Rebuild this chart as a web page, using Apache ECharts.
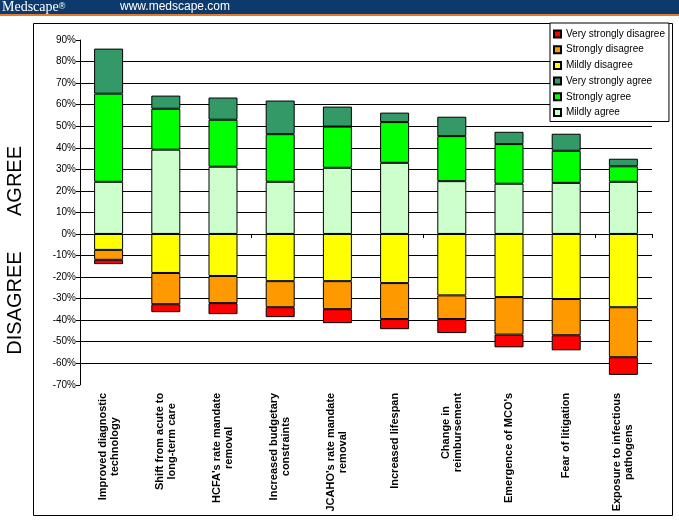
<!DOCTYPE html>
<html><head><meta charset="utf-8">
<script src="https://cdn.jsdelivr.net/npm/echarts@6/dist/echarts.min.js"></script>
<style>html,body{margin:0;padding:0;background:#fff}#c{width:679px;height:522px}</style>
</head><body><div id="c"></div>
<script>
const categories = [
  "Improved diagnostic\ntechnology",
  "Shift from acute to\nlong-term care",
  "HCFA's rate mandate\nremoval",
  "Increased budgetary\nconstraints",
  "JCAHO's rate mandate\nremoval",
  "Increased lifespan",
  "Change in\nreimbursement",
  "Emergence of MCO's",
  "Fear of litigation",
  "Exposure to infectious\npathogens"
];
const mildlyAgree          = [24.2, 39.1, 31.2, 24.2, 30.7, 33.0, 24.5, 23.3, 23.7, 24.2];
const stronglyAgree        = [40.9, 19.0, 21.8, 22.1, 19.1, 18.9, 20.9, 18.4, 14.9, 7.2];
const veryStronglyAgree    = [20.9, 6.1, 10.3, 15.6, 9.3, 4.4, 9.0, 5.7, 7.9, 3.5];
const mildlyDisagree       = [-7.4, -18.1, -19.5, -21.9, -21.9, -22.8, -28.5, -29.3, -30.2, -34.0];
const stronglyDisagree     = [-4.6, -14.5, -12.6, -12.1, -13.0, -16.7, -11.0, -17.4, -16.8, -23.2];
const veryStronglyDisagree = [-2.0, -3.7, -5.1, -4.6, -6.5, -4.7, -6.5, -5.9, -7.0, -8.2];
const legendOrder = ["Very strongly disagree","Strongly disagree","Mildly disagree","Very strongly agree","Strongly agree","Mildly agree"];

const FONT = "'Liberation Sans', Arial, sans-serif";
const chart = echarts.init(document.getElementById('c'), null, {renderer:'canvas'});
function bar(name, data, color){
  return {name, type:'bar', stack:'all', data, barWidth:29, xAxisIndex:0, yAxisIndex:0,
    itemStyle:{color, borderColor:'#000', borderWidth:1}, emphasis:{disabled:true}, animation:false};
}
const option = {
  animation:false,
  textStyle:{fontFamily:FONT},
  grid:[
    {left:80, right:27, top:40, bottom:137.2, outerBoundsMode:'none', containLabel:false},
    {left:80, right:27, top:61.55, bottom:158.75, outerBoundsMode:'none', containLabel:false}
  ],
  xAxis:[
    {gridIndex:0, type:'category', data:categories, boundaryGap:true,
     axisLine:{show:true, onZero:true, lineStyle:{color:'#000', width:1}},
     axisTick:{show:true, inside:false, length:4, lineStyle:{color:'#000'}},
     axisLabel:{show:false}, splitLine:{show:false}},
    {gridIndex:0, type:'category', data:categories, position:'bottom',
     axisLine:{show:false, onZero:false}, axisTick:{show:false}, splitLine:{show:false},
     axisLabel:{show:true, rotate:90, margin:8, interval:0, color:'#000',
       formatter:v => v.split('\n').map(l => '{c|' + l + '}').join('\n'),
       rich:{c:{align:'center', fontFamily:FONT, fontSize:11, fontWeight:'bold', lineHeight:12, color:'#000'}}}},
    {gridIndex:1, type:'category', data:categories, show:false}
  ],
  yAxis:[
    {gridIndex:0, type:'value', min:-70, max:90, interval:10,
     axisLine:{show:true, lineStyle:{color:'#000', width:1}},
     axisTick:{show:true, inside:false, length:4, lineStyle:{color:'#000'}},
     axisLabel:{show:true, margin:4, color:'#000', fontSize:10, fontFamily:FONT, formatter:v => v + '%'},
     splitLine:{show:false}},
    {gridIndex:1, type:'value', min:-60, max:80, interval:10,
     axisLine:{show:false}, axisTick:{show:false}, axisLabel:{show:false},
     splitLine:{show:true, lineStyle:{color:'#000', width:1, type:'solid'}}}
  ],
  legend:{
    data:legendOrder, orient:'vertical', left:550, top:23,
    icon:'rect', itemWidth:7, itemHeight:7, itemGap:3.7,
    padding:[5, 4, 3, 3], backgroundColor:'#fff', borderColor:'#000', borderWidth:1, borderRadius:0,
    textStyle:{color:'#000', fontSize:10, fontFamily:FONT, lineHeight:12},
    selectedMode:false
  },
  series:[
    bar('Mildly agree', mildlyAgree, '#CCFFCC'),
    bar('Strongly agree', stronglyAgree, '#00FF00'),
    bar('Very strongly agree', veryStronglyAgree, '#339966'),
    bar('Mildly disagree', mildlyDisagree, '#FFFF00'),
    bar('Strongly disagree', stronglyDisagree, '#FF9900'),
    bar('Very strongly disagree', veryStronglyDisagree, '#FF0000')
  ],
  graphic:[
    {type:'rect', z:-10, shape:{x:33.5, y:23.5, width:639, height:492}, style:{fill:'#fff', stroke:'#000', lineWidth:1}},
    {type:'rect', z:100, shape:{x:0, y:0, width:679, height:14}, style:{fill:'#0d3a6c'}},
    {type:'rect', z:100, shape:{x:0, y:14, width:679, height:2}, style:{fill:'#e07a2c'}},
    {type:'text', z:101, x:2, y:7, style:{text:'{m|Medscape}{r|\u00ae}', fill:'#fff', textVerticalAlign:'middle',
      rich:{m:{font:"14px 'Liberation Serif', serif", fill:'#fff'}, r:{font:"9px 'Liberation Sans', sans-serif", fill:'#fff'}}}},
    {type:'text', z:101, x:120, y:7, style:{text:'www.medscape.com', fill:'#fff', font:"12px " + FONT, textVerticalAlign:'middle'}},
    {type:'text', x:15, y:181, rotation:Math.PI/2, style:{text:'AGREE', fill:'#000', font:"20px " + FONT, textAlign:'center', textVerticalAlign:'middle'}},
    {type:'text', x:15, y:303, rotation:Math.PI/2, style:{text:'DISAGREE', fill:'#000', font:"20px " + FONT, textAlign:'center', textVerticalAlign:'middle'}}
  ]
};
chart.setOption(option);
</script>
</body></html>
